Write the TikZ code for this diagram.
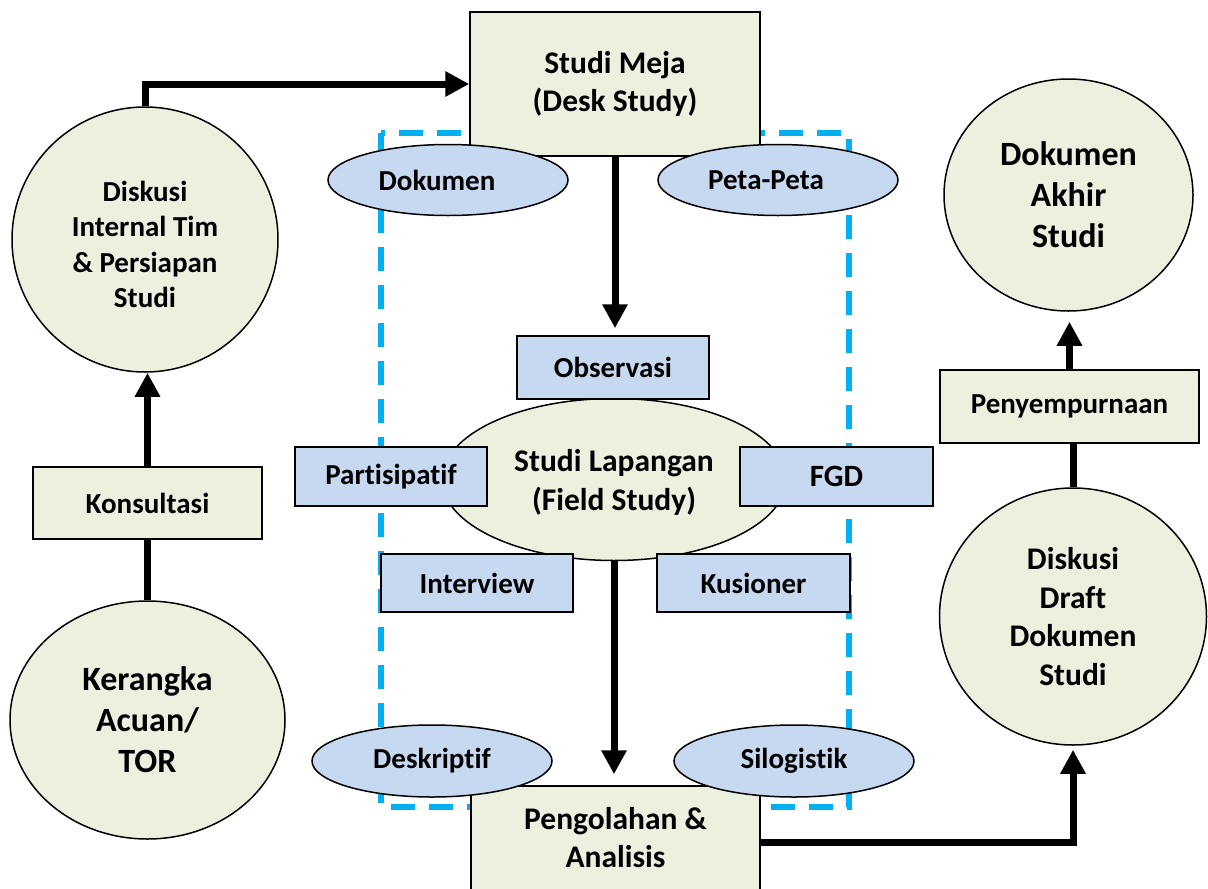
\documentclass[tikz,border=0pt]{standalone}
\usepackage{fontspec}
\setmainfont{Carlito}[Ligatures={NoCommon,NoContextual}]
\usetikzlibrary{shapes.geometric,arrows.meta}
\definecolor{gfill}{RGB}{235,241,222}
\definecolor{bfill}{RGB}{198,217,241}
\definecolor{dcyan}{RGB}{0,176,240}
\begin{document}
\begin{tikzpicture}[x=1pt,y=-1pt,
  every node/.style={align=center, inner sep=0pt},
  fsmall/.style={font=\bfseries\fontsize{29}{35.5}\selectfont},
  fmid/.style={font=\bfseries\fontsize{31.5}{38.5}\selectfont},
  fbig/.style={font=\bfseries\fontsize{34}{41}\selectfont},
  gbox/.style={draw=black, line width=1.5pt, fill=gfill, rectangle},
  bbox/.style={draw=black, line width=1.5pt, fill=bfill, rectangle, fsmall},
  bell/.style={draw=black, line width=1.5pt, fill=bfill, ellipse, fsmall},
  gell/.style={draw=black, line width=1.5pt, fill=gfill, ellipse},
  conn/.style={line width=7pt, draw=black},
  arr/.style={conn, -{Triangle[length=24pt,width=24pt]}},
  dashbox/.style={draw=dcyan, line width=6pt, dash pattern=on 24pt off 14pt}
]
\useasboundingbox (0,0) rectangle (1208,889);
\clip (0,0) rectangle (1208,889);

% dashed frame
\draw[dashbox] (381,133) rectangle (849,807);

% main process boxes
\node[gbox, fmid, minimum width=290pt, minimum height=144pt] (meja) at (615,84) {Studi Meja\\(Desk Study)};
\node[gbox, minimum width=289pt, minimum height=109pt,
      label={[fmid,yshift=3pt]center:Pengolahan \&\\Analisis}] (peng) at (615.5,840.5) {};

% Studi Lapangan
\node[gell, minimum width=344pt, minimum height=162pt,
      label={[fmid,yshift=-3pt]center:Studi Lapangan\\(Field Study)}] (lap) at (614,479.5) {};

% method boxes
\node[bbox, minimum width=192pt, minimum height=63pt] (obs) at (613,367.5) {Observasi};
\node[bbox, minimum width=192pt, minimum height=59pt] (part) at (391,476.5) {Partisipatif};
\node[bbox, minimum width=193pt, minimum height=59pt, font=\bfseries\fontsize{31}{37}\selectfont] (fgd) at (836.5,476.5) {FGD};
\node[bbox, minimum width=192pt, minimum height=58pt] (intv) at (477,583) {Interview};
\node[bbox, minimum width=193pt, minimum height=58pt] (kus) at (753.5,583) {Kusioner};

% ellipses
\node[bell, minimum width=240pt, minimum height=71pt, label={[fsmall,xshift=-11pt]center:Dokumen}] (dok) at (448,180) {};
\node[bell, minimum width=240pt, minimum height=71pt, label={[fsmall,xshift=-12pt]center:Peta-Peta}] (peta) at (778,180) {};
\node[bell, minimum width=240pt, minimum height=72pt] (desk) at (432,761) {Deskriptif};
\node[bell, minimum width=240pt, minimum height=72pt] (silo) at (794,761) {Silogistik};

% left column
\node[gell, minimum width=266pt, minimum height=265pt,
      label={[fsmall,yshift=-5pt]center:Diskusi\\Internal Tim\\\& Persiapan\\Studi}] (dint) at (145,239.5) {};
\node[gbox, fsmall, minimum width=229pt, minimum height=72pt] (kons) at (147.5,503) {Konsultasi};
\node[gell, fbig, minimum width=275pt, minimum height=238pt] (kera) at (147.5,720) {Kerangka\\Acuan/\\TOR};

% right column
\node[gell, fbig, minimum width=249pt, minimum height=232pt] (akhir) at (1068.5,195) {Dokumen\\Akhir\\Studi};
\node[gbox, fsmall, minimum width=259pt, minimum height=73pt] (peny) at (1069.5,406.5) {Penyempurnaan};
\node[gell, fmid, minimum width=267pt, minimum height=257pt] (draft) at (1073,616.5) {Diskusi\\Draft\\Dokumen\\Studi};

% connectors
\draw[arr] (dint.north) |- (meja.west);
\draw[arr, shorten >=7pt] (meja.south) -- (meja.south |- obs.north);
\draw[arr, shorten >=11pt] (lap.south) -- (lap.south |- peng.north);
\draw[arr, shorten >=4pt] ([yshift=-1.5pt]peng.east) -| (draft.south);
\draw[conn] (draft.north) -- (draft.north |- peny.south);
\draw[arr, shorten >=10pt] (peny.north) -- (peny.north |- akhir.south);
\draw[conn] (kera.north) -- (kera.north |- kons.south);
\draw[arr] (kons.north) -- (kons.north |- dint.south);
\end{tikzpicture}
\end{document}
